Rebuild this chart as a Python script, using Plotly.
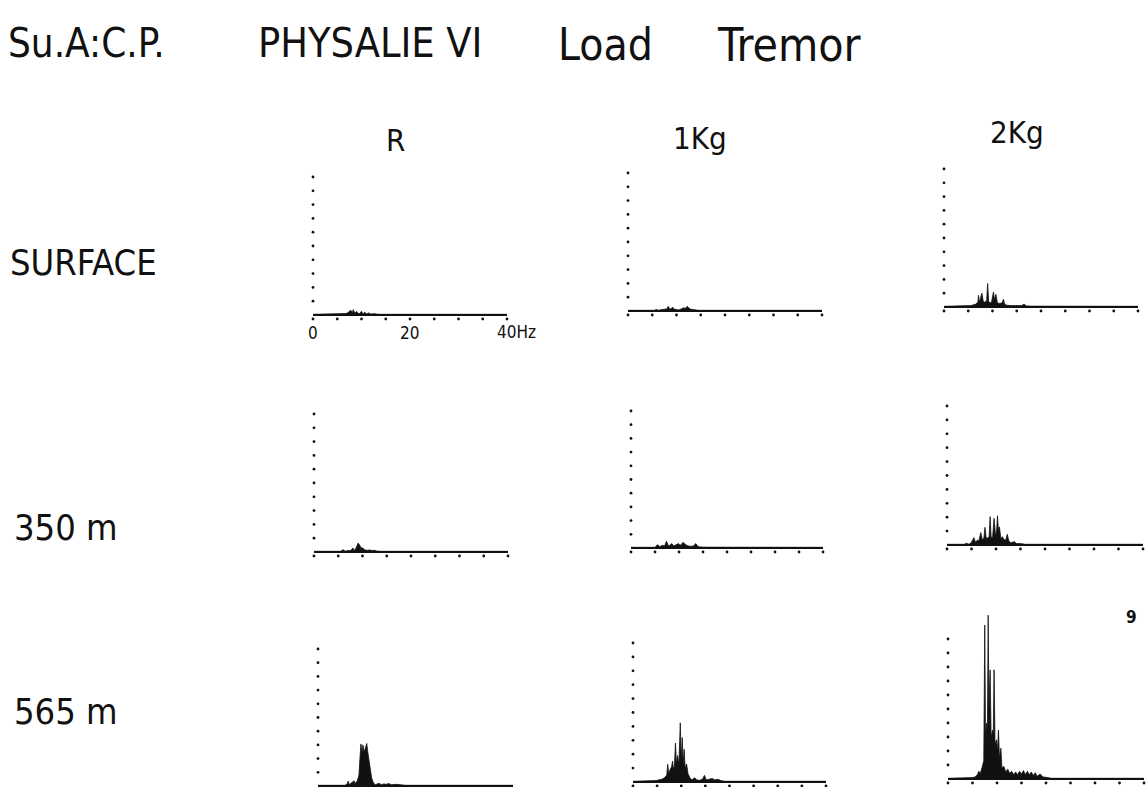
import plotly.graph_objects as go

W, H = 1147, 787

# Tremor spectra, frequency (Hz) against relative power (graticule units)
surf_r_hz = [0, 6.0, 6.5, 7.0, 7.4, 7.8, 8.1, 8.3, 8.6, 9.0, 9.3, 9.7, 10.0, 10.3, 10.7, 11.0, 11.5, 12.0, 12.5, 13.5, 40]
surf_r_amp = [0.05, 0.05, 0.1, 0.12, 0.2, 0.34, 0.15, 0.39, 0.12, 0.27, 0.1, 0.12, 0.27, 0.08, 0.2, 0.07, 0.15, 0.06, 0.1, 0.05, 0.05]

surf_1kg_hz = [0, 5.5, 5.8, 6.2, 7.0, 7.5, 8.0, 8.3, 8.6, 9.0, 9.2, 9.6, 10.0, 10.5, 11.0, 11.5, 11.8, 12.2, 12.6, 13.0, 13.5, 14.5, 40]
surf_1kg_amp = [0.05, 0.05, 0.12, 0.05, 0.1, 0.12, 0.15, 0.34, 0.12, 0.2, 0.27, 0.12, 0.08, 0.08, 0.15, 0.24, 0.18, 0.34, 0.2, 0.12, 0.1, 0.05, 0.05]

surf_2kg_hz = [0, 4.5, 5.5, 6.0, 6.5, 7.0, 7.1, 7.3, 7.5, 7.8, 8.1, 8.4, 8.8, 9.0, 9.2, 9.5, 9.8, 10.2, 10.4, 10.7, 11.0, 11.5, 12.0, 12.25, 12.5, 13.0, 14.0, 15.0, 16.0, 16.5, 17.0, 18.0, 40]
surf_2kg_amp = [0.05, 0.05, 0.1, 0.15, 0.2, 0.35, 0.85, 0.35, 0.6, 1.0, 0.4, 0.35, 0.45, 1.7, 0.4, 0.3, 0.35, 1.09, 0.5, 0.92, 0.3, 0.25, 0.3, 0.56, 0.2, 0.12, 0.1, 0.08, 0.1, 0.2, 0.08, 0.06, 0.05]

m350_r_hz = [0, 5.5, 6.0, 6.4, 7.0, 7.6, 8.0, 8.4, 8.8, 9.1, 9.4, 9.7, 10.0, 10.5, 11.0, 11.5, 12.0, 12.5, 13.0, 14.0, 40]
m350_r_amp = [0.05, 0.05, 0.17, 0.06, 0.1, 0.1, 0.29, 0.1, 0.4, 0.65, 0.5, 0.3, 0.29, 0.15, 0.12, 0.15, 0.1, 0.12, 0.06, 0.05, 0.05]

m350_1kg_hz = [0, 5.0, 5.5, 6.0, 6.6, 7.0, 7.4, 7.8, 8.1, 8.5, 8.9, 9.3, 9.6, 9.9, 10.2, 10.5, 10.8, 11.2, 11.6, 12.0, 12.5, 13.0, 13.5, 14.0, 15.0, 40]
m350_1kg_amp = [0.05, 0.05, 0.24, 0.1, 0.2, 0.15, 0.49, 0.15, 0.2, 0.32, 0.15, 0.2, 0.25, 0.32, 0.2, 0.25, 0.41, 0.3, 0.2, 0.15, 0.12, 0.15, 0.32, 0.1, 0.06, 0.05]

m350_2kg_hz = [0, 3.5, 4.0, 4.5, 5.0, 5.5, 5.8, 6.2, 6.5, 6.9, 7.2, 7.5, 7.75, 8.0, 8.3, 8.6, 8.8, 9.0, 9.3, 9.6, 9.9, 10.1, 10.3, 10.5, 10.7, 11.0, 11.3, 11.6, 12.0, 12.3, 12.6, 13.0, 13.7, 14.2, 15.0, 16.0, 40]
m350_2kg_amp = [0.05, 0.05, 0.12, 0.05, 0.2, 0.53, 0.2, 0.35, 0.3, 0.89, 0.4, 0.45, 1.27, 0.5, 0.5, 0.6, 2.04, 0.6, 0.5, 1.92, 0.7, 0.9, 2.1, 1.0, 1.3, 0.45, 0.6, 0.4, 0.35, 0.77, 0.3, 0.15, 0.24, 0.1, 0.1, 0.05, 0.05]

m565_r_hz = [0, 4.5, 5.0, 5.5, 6.0, 6.2, 6.4, 7.0, 7.4, 7.6, 7.8, 8.0, 8.4, 8.6, 8.8, 9.0, 9.2, 9.5, 9.8, 10.0, 10.2, 10.5, 10.8, 11.0, 11.4, 11.8, 12.5, 13.0, 13.5, 14.0, 14.5, 15.0, 16.0, 17.0, 18.0, 40]
m565_r_amp = [0.05, 0.05, 0.1, 0.05, 0.15, 0.36, 0.1, 0.25, 0.38, 0.1, 0.3, 0.3, 0.8, 2.0, 3.07, 2.4, 3.0, 2.5, 2.9, 3.1, 2.5, 1.8, 1.2, 0.6, 0.2, 0.1, 0.2, 0.1, 0.15, 0.12, 0.18, 0.1, 0.12, 0.08, 0.05, 0.05]

m565_1kg_hz = [0, 4.0, 4.5, 5.0, 5.5, 6.0, 6.5, 7.0, 7.2, 7.4, 7.7, 8.0, 8.2, 8.4, 8.6, 8.8, 9.0, 9.25, 9.5, 9.8, 10.0, 10.2, 10.4, 10.6, 10.8, 11.1, 11.4, 11.8, 12.2, 12.5, 12.8, 13.2, 13.8, 14.4, 14.8, 15.2, 15.8, 16.4, 17.0, 17.6, 18.2, 19.0, 40]
m565_1kg_amp = [0.05, 0.05, 0.1, 0.12, 0.15, 0.2, 0.3, 0.5, 1.27, 0.6, 0.9, 1.1, 1.5, 0.9, 1.2, 2.8, 1.3, 1.9, 1.2, 4.25, 1.5, 3.2, 1.3, 2.35, 1.0, 1.3, 0.6, 0.3, 0.15, 0.2, 0.3, 0.15, 0.12, 0.2, 0.48, 0.15, 0.2, 0.25, 0.15, 0.2, 0.1, 0.05, 0.05]

m565_2kg_hz = [0, 4.5, 5.0, 5.5, 6.0, 6.3, 6.6, 7.0, 7.3, 7.5, 7.65, 7.9, 8.05, 8.2, 8.35, 8.6, 8.8, 9.1, 9.25, 9.4, 9.6, 9.9, 10.1, 10.3, 10.5, 10.8, 11.0, 11.4, 11.8, 12.2, 12.6, 13.0, 13.4, 13.8, 14.2, 14.6, 15.0, 15.4, 15.8, 16.2, 16.6, 17.0, 17.4, 17.8, 18.2, 18.8, 19.4, 20.4, 21.0, 40]
m565_2kg_amp = [0.05, 0.05, 0.1, 0.15, 0.3, 0.55, 0.4, 0.9, 1.3, 11.0, 3.2, 4.0, 3.5, 11.7, 5.0, 7.8, 3.0, 3.5, 3.2, 7.8, 2.5, 2.8, 2.0, 3.5, 1.5, 2.2, 0.8, 0.9, 0.5, 0.7, 0.4, 0.55, 0.3, 0.5, 0.3, 0.55, 0.35, 0.6, 0.3, 0.55, 0.3, 0.5, 0.25, 0.45, 0.2, 0.35, 0.15, 0.1, 0.05, 0.05]

ROW_LABELS = ["SURFACE", "350 m", "565 m"]
COL_LABELS = ["R", "1Kg", "2Kg"]
FREQ_TICKS = [0, 5, 10, 15, 20, 25, 30, 35, 40]
FREQ_LABEL_HZ = [0, 20, 40]
FREQ_LABELS = ["0", "20", "40Hz"]
LEVELS = [1, 2, 3, 4, 5, 6, 7, 8, 9, 10]
FREQ_MAX = 40
PAGE_NUMBER = "9"

SPECTRA = [
    (surf_r_hz, surf_r_amp), (surf_1kg_hz, surf_1kg_amp), (surf_2kg_hz, surf_2kg_amp),
    (m350_r_hz, m350_r_amp), (m350_1kg_hz, m350_1kg_amp), (m350_2kg_hz, m350_2kg_amp),
    (m565_r_hz, m565_r_amp), (m565_1kg_hz, m565_1kg_amp), (m565_2kg_hz, m565_2kg_amp),
]

# panel frames in page pixels: x of 0 Hz, x of 40 Hz, baseline y, y of 10th level
FRAMES = [
    (313, 507, 315, 177), (628, 822, 311, 173), (944, 1138, 307, 169),
    (314, 508, 552, 414), (631, 823, 548, 411), (947, 1143, 545, 406),
    (318, 513, 786, 649), (633, 826, 782, 643), (948, 1144, 779, 639),
]

FONT = "DejaVu Sans Condensed, Liberation Sans Narrow, Liberation Sans, sans-serif"
INK = "#111111"


def px(x):
    return x / W


def py(y):
    return 1 - y / H


fig = go.Figure()

for i, ((hz, amp), (x0, x40, yb, yt)) in enumerate(zip(SPECTRA, FRAMES), start=1):
    sx = (x40 - x0) / FREQ_MAX
    sy = (yb - yt) / 10.0
    left, right = x0 - 4, min(x40 + 4, W - 1)
    top, bottom = yt - 45, min(yb + 9, H)
    xname = "x" if i == 1 else f"x{i}"
    yname = "y" if i == 1 else f"y{i}"
    suffix = "" if i == 1 else str(i)
    fig.layout[f"xaxis{suffix}"] = dict(
        domain=[px(left), px(right)], range=[(left - x0) / sx, (right - x0) / sx],
        visible=False, anchor=yname, fixedrange=True)
    fig.layout[f"yaxis{suffix}"] = dict(
        domain=[py(bottom), py(top)], range=[-(bottom - yb) / sy, (yb - top) / sy],
        visible=False, anchor=xname, fixedrange=True)

    # spectrum envelope, filled down to the baseline
    fig.add_trace(go.Scatter(
        x=hz, y=amp, mode="lines", fill="tozeroy", fillcolor=INK,
        line=dict(color=INK, width=0.8), xaxis=xname, yaxis=yname,
        hoverinfo="skip", showlegend=False))
    # frequency baseline
    fig.add_trace(go.Scatter(
        x=[0, FREQ_MAX], y=[0, 0], mode="lines", line=dict(color=INK, width=1.8),
        xaxis=xname, yaxis=yname, hoverinfo="skip", showlegend=False))
    # dotted amplitude graticule
    fig.add_trace(go.Scatter(
        x=[0] * len(LEVELS), y=LEVELS, mode="markers",
        marker=dict(color=INK, size=2.8), cliponaxis=False,
        xaxis=xname, yaxis=yname, hoverinfo="skip", showlegend=False))
    # dotted frequency ticks under the baseline
    fig.add_trace(go.Scatter(
        x=FREQ_TICKS, y=[-4 / sy] * len(FREQ_TICKS), mode="markers",
        marker=dict(color=INK, size=2.8), cliponaxis=False,
        xaxis=xname, yaxis=yname, hoverinfo="skip", showlegend=False))

annotations = []


def label(text, x, y, size, anchor="center", weight="normal"):
    annotations.append(dict(
        text=text, x=px(x), y=py(y), xref="paper", yref="paper",
        xanchor=anchor, yanchor="middle", showarrow=False,
        font=dict(family=FONT, size=size, color=INK, weight=weight)))


# heading
label("Su.A:C.P.", 6, 43, 40, "left")
label("PHYSALIE VI", 370, 43, 41)
label("Load", 605, 45, 44)
label("Tremor", 789, 45, 46)

# column and row headings
for text, (x, y) in zip(COL_LABELS, [(395, 140), (700, 138), (1017, 132)]):
    label(text, x, y, 31)
for text, (x, y) in zip(ROW_LABELS, [(8, 262), (12, 527), (12, 711)]):
    label(text, x, y, 36, "left")

# frequency scale under the first panel
x0, x40, yb, _ = FRAMES[0]
for text, f in zip(FREQ_LABELS, FREQ_LABEL_HZ):
    xpix = x0 + f * (x40 - x0) / FREQ_MAX
    if text.endswith("Hz"):
        label(text, xpix - 12, yb + 17, 17, "left")
    else:
        label(text, xpix, yb + 18, 17)

label(PAGE_NUMBER, 1131, 617, 17, weight="bold")

fig.update_layout(
    width=W, height=H, margin=dict(l=0, r=0, t=0, b=0),
    paper_bgcolor="white", plot_bgcolor="rgba(0,0,0,0)",
    annotations=annotations, showlegend=False)

fig.write_html("out.html", config={"displayModeBar": False})
